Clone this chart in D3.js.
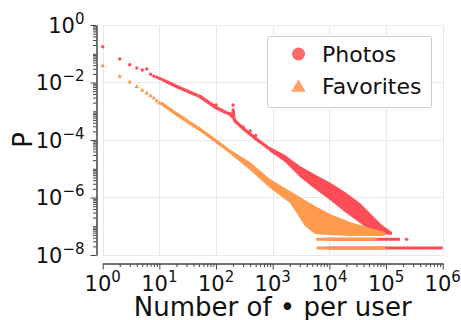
<!DOCTYPE html>
<html><head><meta charset="utf-8">
<script src="https://cdn.jsdelivr.net/npm/d3@7"></script>
<style>
html,body{margin:0;padding:0;background:#fff;}
svg{display:block;font-family:"DejaVu Sans",sans-serif;}
</style></head><body>
<svg id="chart" width="461" height="320"></svg>
<script>
// Distribution of per-user counts of photos and favorites (log-log).

// Individual low-count values [count, probability]
const photosHead = [[1,0.176],[2,0.0657],[3,0.0416],[4,0.0319],[5,0.0272],[6,0.0295],
  [7,0.0193],[8,0.0164],[9,0.0152],[10,0.0140],[11,0.0129],[12,0.0119]];
const favoritesHead = [[1,0.0375],[2,0.0164],[3,0.0102],[4,0.00714],[5,0.00535],
  [6,0.00421],[7,0.00339],[8,0.00282],[9,0.00227],[10,0.00189]];

// Densely packed mid range, where neighbouring counts merge into a ridge
const photosBody = [[12.6,1.13e-2],[23.1,6.44e-3],[52.1,3.26e-3],[102.8,1.30e-3],[150,9.06e-4],
  [176,8.02e-4],[194,6.57e-4],[199,6.31e-4],[201,1.10e-3],[203,8.02e-4],[206,5.82e-4],
  [216,4.58e-4],[324,2.23e-4],[487,1.17e-4],[731,6.44e-5],[1097,3.53e-5]];
const favoritesBody = [[11.1,1.86e-3],[18.9,8.69e-4],[34.7,3.90e-4],[52.1,2.32e-4],
  [102.8,8.73e-5],[176,3.98e-5],[250,2.37e-5]];

// Counts standing out above the ridge
const photosOutliers = [[100,1.65e-3],[200,1.65e-3],[300,2.83e-4],[400,2.06e-4],[500,1.43e-4]];

// Noisy tail: [count, upper probability, lower probability]
const photosSpread = [[896,5.71e-5,3.98e-5],[1648,3.01e-5,1.72e-5],[3030,1.25e-5,5.16e-6],
  [5572,6.31e-6,1.98e-6],[10250,3.33e-6,8.19e-7],[18850,1.55e-6,3.13e-7],[34700,6.44e-7,1.30e-7],
  [56500,2.46e-7,6.31e-8],[84900,1.10e-7,5.37e-8],[127400,6.31e-8,4.97e-8]];
const favoritesSpread = [[176,4.68e-5,3.39e-5],[397,1.72e-5,9.05e-6],[896,4.40e-6,2.14e-6],
  [2019,1.68e-6,6.44e-7],[3714,8.19e-7,1.02e-7],[5572,5.06e-7,5.37e-8],[10250,2.67e-7,4.97e-8],
  [23100,1.41e-7,4.58e-8],[52100,8.69e-8,4.58e-8],[95900,6.31e-8,4.58e-8]];

// Users seen once or twice at a given count: [from count, to count, probability]
const photosFloor = [[9000,1e6,1.75e-8],[9000,1.76e5,3.5e-8]];
const favoritesFloor = [[5970,1e5,1.75e-8],[5800,6.8e4,3.5e-8]];
const photosStray = [[2.3e5,3.5e-8]];

// Axis decades that carry labels
const xTickExps = [0,1,2,3,4,5,6];
const yTickExps = [0,-2,-4,-6,-8];

const seriesNames = ["Photos","Favorites"];
const red = "#ff4d57", orange = "#ff9a4f";

const svg = d3.select("#chart");
const x = d3.scaleLog().domain([1,1e6]).range([102.7,442.7]);
const y = d3.scaleLog().domain([1e-8,1]).range([255,25]);

// grid
const grid = svg.append("g").attr("stroke","#e8e8e8").attr("stroke-width",1);
xTickExps.forEach(e => grid.append("line")
  .attr("x1",Math.round(x(10**e))+0.5).attr("x2",Math.round(x(10**e))+0.5)
  .attr("y1",y(1e-8)).attr("y2",y(1)));
yTickExps.forEach(e => grid.append("line")
  .attr("y1",Math.round(y(10**e))+0.5).attr("y2",Math.round(y(10**e))+0.5)
  .attr("x1",x(1)).attr("x2",x(1e6)));

// minor tick positions
const xMinor = [], yMinor = [];
for (let d = 0; d < 6; d++) for (let m = 2; m <= 9; m++) xMinor.push(m * 10**d);
for (let d = -8; d < 0; d++) for (let m = 1; m <= 9; m++) {
  const v = m * 10**d; if (!(m === 1 && yTickExps.includes(d))) yMinor.push(v);
}

const axisColor = "#444";
function styleAxis(g){ g.selectAll("path,line").attr("stroke",axisColor).attr("stroke-width",1); g.selectAll("text").remove(); }

svg.append("g").attr("transform","translate(96.5,0)")
  .call(d3.axisLeft(y).tickValues(yMinor).tickSize(3.5).tickSizeOuter(0)).call(styleAxis);
svg.append("g").attr("transform","translate(96.5,0)")
  .call(d3.axisLeft(y).tickValues(yTickExps.map(e=>10**e)).tickSize(6).tickSizeOuter(0)).call(styleAxis);
svg.append("g").attr("transform","translate(0,263.5)")
  .call(d3.axisBottom(x).tickValues(xMinor).tickSize(3.5).tickSizeOuter(0)).call(styleAxis);
svg.append("g").attr("transform","translate(0,263.5)")
  .call(d3.axisBottom(x).tickValues(xTickExps.map(e=>10**e)).tickSize(6).tickSizeOuter(0)).call(styleAxis);

function powLabel(g, e, px, py, anchor){
  const t = g.append("text").attr("x",px).attr("y",py).attr("text-anchor",anchor)
    .attr("fill","#111").attr("font-size",21);
  t.append("tspan").text("10");
  t.append("tspan").attr("font-size",15).attr("dy",-9).text(String(e).replace("-","\u2212"));
}
const labels = svg.append("g");
yTickExps.forEach(e => powLabel(labels, e, 84.5, y(10**e)+7.5, "end"));
xTickExps.forEach(e => powLabel(labels, e, x(10**e), 290.5, "middle"));

svg.append("text").attr("transform","translate(31.5,140) rotate(-90)")
  .attr("text-anchor","middle").attr("font-size",26).attr("fill","#111").text("P");
svg.append("text").attr("x",272.7).attr("y",316).attr("text-anchor","middle")
  .attr("font-size",26).attr("fill","#111").text("Number of \u2022 per user");

// data layers
const plot = svg.append("g");
const ridge = d3.line().x(d=>x(d[0])).y(d=>y(d[1]));
const spread = d3.area().x(d=>x(d[0])).y0(d=>y(d[2])).y1(d=>y(d[1]));
const tri = d3.symbol(d3.symbolTriangle).size(9);

function drawSeries(head, body, spr, floor, color, marker){
  plot.append("path").datum(spr).attr("d",spread).attr("fill",color);
  plot.append("path").datum(body).attr("d",ridge).attr("fill","none").attr("stroke",color)
    .attr("stroke-width",3.4).attr("stroke-linejoin","round").attr("stroke-linecap","round");
  floor.forEach(f => plot.append("line").attr("x1",x(f[0])).attr("x2",x(f[1]))
    .attr("y1",y(f[2])).attr("y2",y(f[2])).attr("stroke",color).attr("stroke-width",3));
  head.forEach(d => marker(d));
}

drawSeries(photosHead, photosBody, photosSpread, photosFloor, red,
  d => plot.append("circle").attr("cx",x(d[0])).attr("cy",y(d[1])).attr("r",1.7).attr("fill",red));
photosOutliers.concat(photosStray).forEach(d => plot.append("circle")
  .attr("cx",x(d[0])).attr("cy",y(d[1])).attr("r",1.7).attr("fill",red));
drawSeries(favoritesHead, favoritesBody, favoritesSpread, favoritesFloor, orange,
  d => plot.append("path").attr("d",tri).attr("transform",`translate(${x(d[0])},${y(d[1])})`).attr("fill",orange));

// legend
const lg = svg.append("g");
lg.append("rect").attr("x",267.5).attr("y",36.5).attr("width",164).attr("height",71).attr("rx",2)
  .attr("fill","#fff").attr("stroke","#cfcfcf");
lg.append("circle").attr("cx",298.5).attr("cy",54).attr("r",6.5).attr("fill","#ff6868");
lg.append("path").attr("d",d3.symbol(d3.symbolTriangle).size(90)).attr("transform","translate(298.5,87.5)").attr("fill","#ffa262");
seriesNames.forEach((n,i) => lg.append("text").attr("x",322).attr("y",62.3+i*32)
  .attr("font-size",22).attr("fill","#111").text(n));
</script></body></html>
